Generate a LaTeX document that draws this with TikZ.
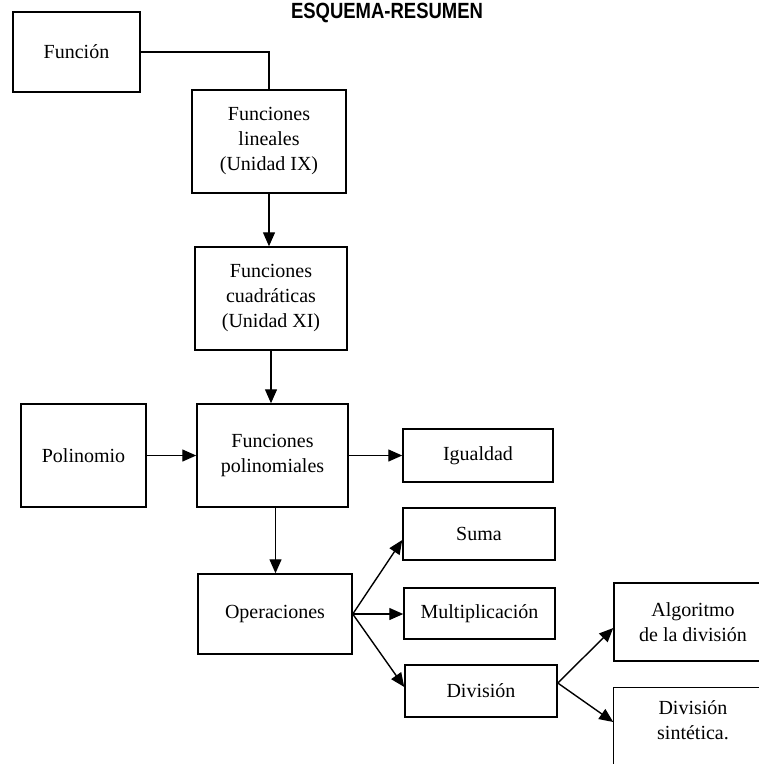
\documentclass[tikz,border=0pt]{standalone}
\usepackage{fontspec}
\setmainfont{Liberation Serif}
\newfontfamily\titlesans{Liberation Sans}
\usetikzlibrary{arrows.meta}
\begin{document}
\begin{tikzpicture}[x=1pt,y=-1pt,
  box/.style={draw, line width=1.5pt, align=center, inner sep=2pt,
    font=\fontsize{20}{25}\selectfont},
  conn/.style={line width=1.4pt},
  arr/.style={conn, -{Triangle[length=14pt,width=12pt]}}]
\useasboundingbox (0,0) rectangle (759,764);

% title
\node[font=\titlesans\bfseries\fontsize{22}{26}\selectfont] (title) at (387,13)
  {\scalebox{0.84}[1]{ESQUEMA-RESUMEN}};

% boxes
\node[box, minimum width=127pt, minimum height=80pt]  (func)  at (76.5,52)   {Función};
\node[box, minimum width=154pt, minimum height=103pt] (lin)   at (269,141.5) {Funciones\\lineales\\(Unidad IX)};
\node[box, minimum width=152pt, minimum height=103pt] (cuad)  at (271,298.5) {Funciones\\cuadráticas\\(Unidad XI)};
\node[box, minimum width=125pt, minimum height=103pt] (poli)  at (83.5,455.5) {Polinomio};
\node[box, minimum width=151pt, minimum height=103pt] (polin) at (272.5,455.5) {Funciones\\polinomiales};
\node[box, minimum width=150pt, minimum height=53pt]  (igual) at (478,455.5) {Igualdad};
\node[box, minimum width=154pt, minimum height=80pt]  (oper)  at (275,614)   {Operaciones};
\node[box, minimum width=152pt, minimum height=52pt]  (suma)  at (479,534)   {Suma};
\node[box, minimum width=151pt, minimum height=51pt]  (mult)  at (479.5,613.5) {Multiplicación};
\node[box, minimum width=152pt, minimum height=52pt]  (div)   at (481,691)   {División};
\node[box, minimum width=158pt, minimum height=78pt]  (alg)   at (693,622)   {Algoritmo\\de la división};
\node[box, draw=none, minimum width=158pt, minimum height=64pt] (sint) at (693,720) {División\\sintética.};
% open outline of the last box, running past the lower edge
\draw[line width=1.5pt] ([yshift=-30pt]sint.south west) -- (sint.north west) -- ([xshift=10pt]sint.north east);

% connectors
\draw[conn] (func.east) -| (lin.north);
\draw[arr] (lin.south) -- (lin.south |- cuad.north);
\draw[arr] (cuad.south) -- (cuad.south |- polin.north);
\draw[arr] (poli.east) -- (polin.west);
\draw[arr] (polin.east) -- (igual.west);
\draw[arr] ([xshift=3pt]polin.south) -- ([xshift=3pt]polin.south |- oper.north);
\draw[arr] (oper.east) -- ([yshift=-6pt]suma.west);
\draw[arr] (oper.east) -- (oper.east -| mult.west);
\draw[arr] (oper.east) -- ([yshift=4pt]div.west);
\draw[arr] ([yshift=8pt]div.east) -- ([yshift=-6pt]alg.west);
\draw[arr] ([yshift=8pt]div.east) -- ([yshift=-2pt]sint.west);
\end{tikzpicture}
\end{document}
